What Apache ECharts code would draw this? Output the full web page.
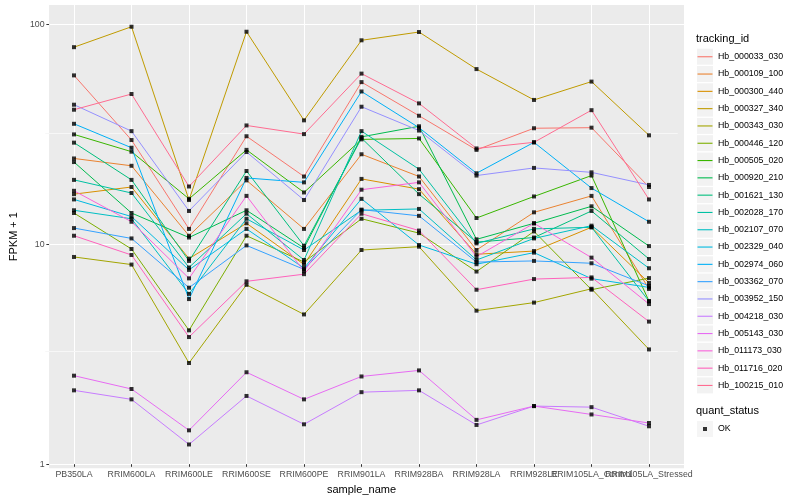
<!DOCTYPE html>
<html><head><meta charset="utf-8">
<script src="https://cdn.jsdelivr.net/npm/echarts@6/dist/echarts.min.js"></script>
<style>html,body{margin:0;padding:0;background:#fff}#c{width:800px;height:500px}</style>
</head><body><div id="c"></div>
<script>
const categories = ["PB350LA","RRIM600LA","RRIM600LE","RRIM600SE","RRIM600PE","RRIM901LA","RRIM928BA","RRIM928LA","RRIM928LE","RRIM105LA_Control","RRIM105LA_Stressed"];
const trackingIds = ["Hb_000033_030","Hb_000109_100","Hb_000300_440","Hb_000327_340","Hb_000343_030","Hb_000446_120","Hb_000505_020","Hb_000920_210","Hb_001621_130","Hb_002028_170","Hb_002107_070","Hb_002329_040","Hb_002974_060","Hb_003362_070","Hb_003952_150","Hb_004218_030","Hb_005143_030","Hb_011173_030","Hb_011716_020","Hb_100215_010"];

const Hb_000033_030 = [58.2, 29.4, 11.5, 30.6, 20.0, 54.2, 38.0, 26.5, 33.3, 33.5, 17.9];
const Hb_000109_100 = [24.2, 22.4, 10.7, 19.2, 11.5, 25.3, 20.0, 9.2, 13.7, 16.3, 6.1];
const Hb_000300_440 = [16.6, 17.9, 8.4, 12.2, 7.9, 19.5, 17.5, 8.8, 9.1, 11.7, 6.5];
const Hb_000327_340 = [78.4, 97.3, 15.6, 92.3, 36.2, 84.3, 92.0, 62.2, 44.9, 54.5, 30.9];
const Hb_000343_030 = [8.55, 7.89, 2.79, 6.37, 4.66, 9.2, 9.53, 4.85, 5.28, 6.11, 3.22];
const Hb_000446_120 = [13.6, 9.3, 3.94, 10.7, 8.1, 12.8, 11.0, 7.33, 11.2, 6.05, 6.84];
const Hb_000505_020 = [31.2, 26.0, 15.8, 26.5, 16.9, 29.6, 29.9, 12.9, 16.2, 20.2, 5.36];
const Hb_000920_210 = [23.3, 13.6, 10.5, 14.0, 9.4, 30.4, 34.0, 10.3, 12.2, 14.6, 9.59];
const Hb_001621_130 = [28.6, 19.3, 8.2, 21.2, 9.63, 30.0, 16.6, 10.0, 10.5, 13.9, 8.37];
const Hb_002028_170 = [19.3, 16.8, 7.65, 13.5, 8.28, 32.3, 21.6, 9.87, 11.5, 11.7, 5.36];
const Hb_002107_070 = [14.0, 12.8, 5.79, 12.8, 9.2, 14.0, 14.2, 8.28, 10.4, 11.9, 7.59];
const Hb_002329_040 = [15.7, 13.1, 7.46, 11.5, 7.6, 15.8, 9.7, 7.92, 8.95, 6.8, 6.2];
const Hb_002974_060 = [34.9, 27.1, 5.48, 19.7, 18.8, 49.1, 33.5, 20.7, 28.7, 17.7, 12.4];
const Hb_003362_070 = [11.6, 10.4, 6.18, 9.66, 7.5, 14.1, 13.2, 8.1, 8.2, 8.0, 6.3];
const Hb_003952_150 = [42.7, 32.3, 13.9, 25.9, 15.6, 41.8, 32.5, 20.2, 21.9, 20.9, 18.3];
const Hb_004218_030 = [2.09, 1.90, 1.18, 1.97, 1.46, 2.05, 2.09, 1.45, 1.77, 1.75, 1.43];
const Hb_005143_030 = [2.44, 2.12, 1.37, 2.53, 1.90, 2.42, 2.58, 1.53, 1.77, 1.62, 1.48];
const Hb_011173_030 = [17.2, 12.4, 6.82, 16.3, 7.35, 17.4, 18.8, 8.58, 12.2, 8.49, 5.2];
const Hb_011716_020 = [10.7, 8.73, 3.67, 6.61, 7.13, 13.5, 11.3, 6.05, 6.77, 6.89, 4.32];
const Hb_100215_010 = [40.5, 47.8, 18.0, 34.3, 31.3, 59.3, 43.3, 26.9, 28.7, 40.3, 15.7];

const seriesValues = [Hb_000033_030, Hb_000109_100, Hb_000300_440, Hb_000327_340, Hb_000343_030, Hb_000446_120, Hb_000505_020, Hb_000920_210, Hb_001621_130, Hb_002028_170, Hb_002107_070, Hb_002329_040, Hb_002974_060, Hb_003362_070, Hb_003952_150, Hb_004218_030, Hb_005143_030, Hb_011173_030, Hb_011716_020, Hb_100215_010];
const yTickLabels = [1, 10, 100];
const yMinorBreaks = [3.1623, 31.623];
const quantStatus = "OK";

const palette = ["#F8766D","#EA8331","#D89000","#C09B00","#A3A500","#7CAE00","#39B600","#00BB4E","#00BF7D","#00C1A3","#00BFC4","#00BAE0","#00B0F6","#35A2FF","#9590FF","#C77CFF","#E76BF3","#FA62DB","#FF62BC","#FF6C91"];
const FONT = '"Liberation Sans", Arial, Helvetica, sans-serif';
const Y_MIN = 0.959, Y_MAX = 122.4;

const chart = echarts.init(document.getElementById('c'), null, {renderer: 'canvas'});

const lineSeries = trackingIds.map((id, k) => ({
  name: id, type: 'line', xAxisIndex: 1, yAxisIndex: 1,
  data: seriesValues[k], symbol: 'none', color: palette[k],
  itemStyle: {color: palette[k]},
  lineStyle: {color: palette[k], width: 1}, z: 10, silent: true,
  emphasis: {disabled: true}, animation: false
}));

const pointData = [];
seriesValues.forEach(arr => arr.forEach((v, i) => pointData.push([categories[i], v])));

const legendCommon = {
  orient: 'vertical', left: 697, itemWidth: 16, itemHeight: 16, itemGap: 1.3,
  selectedMode: false, padding: 0,
  textStyle: {fontSize: 8.8, lineHeight: 16, height: 16, color: '#000', fontFamily: FONT}
};
const LINE_ICON = 'path://M0,0M16,16M0.5,7.5L15.5,7.5L15.5,8.6L0.5,8.6Z';
const DOT_ICON = 'path://M0,0M16,16M6,6L10,6L10,10L6,10Z';

const gridMarks = categories.map(c => ({xAxis: c, lineStyle: {color: '#FFFFFF', width: 1, type: 'solid'}}))
  .concat(yMinorBreaks.map(v => ({yAxis: v, lineStyle: {color: '#F7F7F7', width: 1, type: 'solid'}})));

const option = {
  animation: false,
  textStyle: {fontFamily: FONT},
  title: [
    {text: 'tracking_id', left: 696, top: 33, padding: 0, textStyle: {fontSize: 11, fontWeight: 'normal', color: '#000', fontFamily: FONT}},
    {text: 'quant_status', left: 696, top: 405, padding: 0, textStyle: {fontSize: 11, fontWeight: 'normal', color: '#000', fontFamily: FONT}}
  ],
  legend: [
    Object.assign({}, legendCommon, {top: 48.7, z: 1, data: trackingIds, icon: 'rect', itemStyle: {color: '#F2F2F2'}, formatter: () => ' '}),
    Object.assign({}, legendCommon, {top: 48.7, z: 5, data: trackingIds, icon: LINE_ICON, itemStyle: {borderWidth: 0}}),
    Object.assign({}, legendCommon, {top: 421, z: 1, data: [quantStatus], icon: 'rect', itemStyle: {color: '#F2F2F2'}, formatter: () => ' '}),
    Object.assign({}, legendCommon, {top: 421, z: 5, data: [quantStatus], icon: DOT_ICON, itemStyle: {color: '#000000', borderWidth: 0}})
  ],
  grid: [
    {left: 40, right: 116, top: 5, bottom: 31.7, show: true, backgroundColor: '#EBEBEB', borderWidth: 0, containLabel: false},
    {left: 45.25, right: 122.25, top: 5, bottom: 31.7, containLabel: false}
  ],
  xAxis: [
    {type: 'value', gridIndex: 0, min: 0, max: 1, show: false},
    {type: 'category', gridIndex: 1, data: categories, boundaryGap: true,
     name: 'sample_name', nameLocation: 'middle', nameGap: 19,
     nameTextStyle: {fontSize: 11, color: '#000', fontFamily: FONT},
     axisLine: {show: false},
     axisTick: {show: true, alignWithLabel: true, length: 2.7, lineStyle: {color: '#333333', width: 1}},
     axisLabel: {interval: 0, fontSize: 8.8, color: '#4D4D4D', margin: 6, fontFamily: FONT},
     splitLine: {show: false}}
  ],
  yAxis: [
    {type: 'log', logBase: 10, gridIndex: 0, min: Y_MIN, max: Y_MAX,
     name: 'FPKM + 1', nameLocation: 'middle', nameGap: 22,
     nameTextStyle: {fontSize: 11, color: '#000', fontFamily: FONT},
     axisLine: {show: false},
     axisTick: {show: true, length: 2.7, lineStyle: {color: '#333333'}, customValues: yTickLabels},
     axisLabel: {fontSize: 8.8, color: '#4D4D4D', margin: 4.5, customValues: yTickLabels, formatter: v => String(v), fontFamily: FONT},
     splitLine: {show: true, lineStyle: {color: '#FFFFFF', width: 1}}},
    {type: 'log', logBase: 10, gridIndex: 1, min: Y_MIN, max: Y_MAX, show: false, splitLine: {show: false}}
  ],
  series: [
    {type: 'line', name: '_grid', xAxisIndex: 1, yAxisIndex: 1, data: categories.map(() => null), silent: true, symbol: 'none',
     markLine: {silent: true, symbol: 'none', z: 1, label: {show: false}, animation: false,
       lineStyle: {color: '#FFFFFF', width: 1, type: 'solid'},
       data: gridMarks}},
    ...lineSeries,
    {type: 'scatter', name: quantStatus, xAxisIndex: 1, yAxisIndex: 1, data: pointData,
     symbol: 'rect', symbolSize: 4, color: '#000000', itemStyle: {color: '#000000'}, z: 11, silent: true}
  ]
};
chart.setOption(option);
</script></body></html>
